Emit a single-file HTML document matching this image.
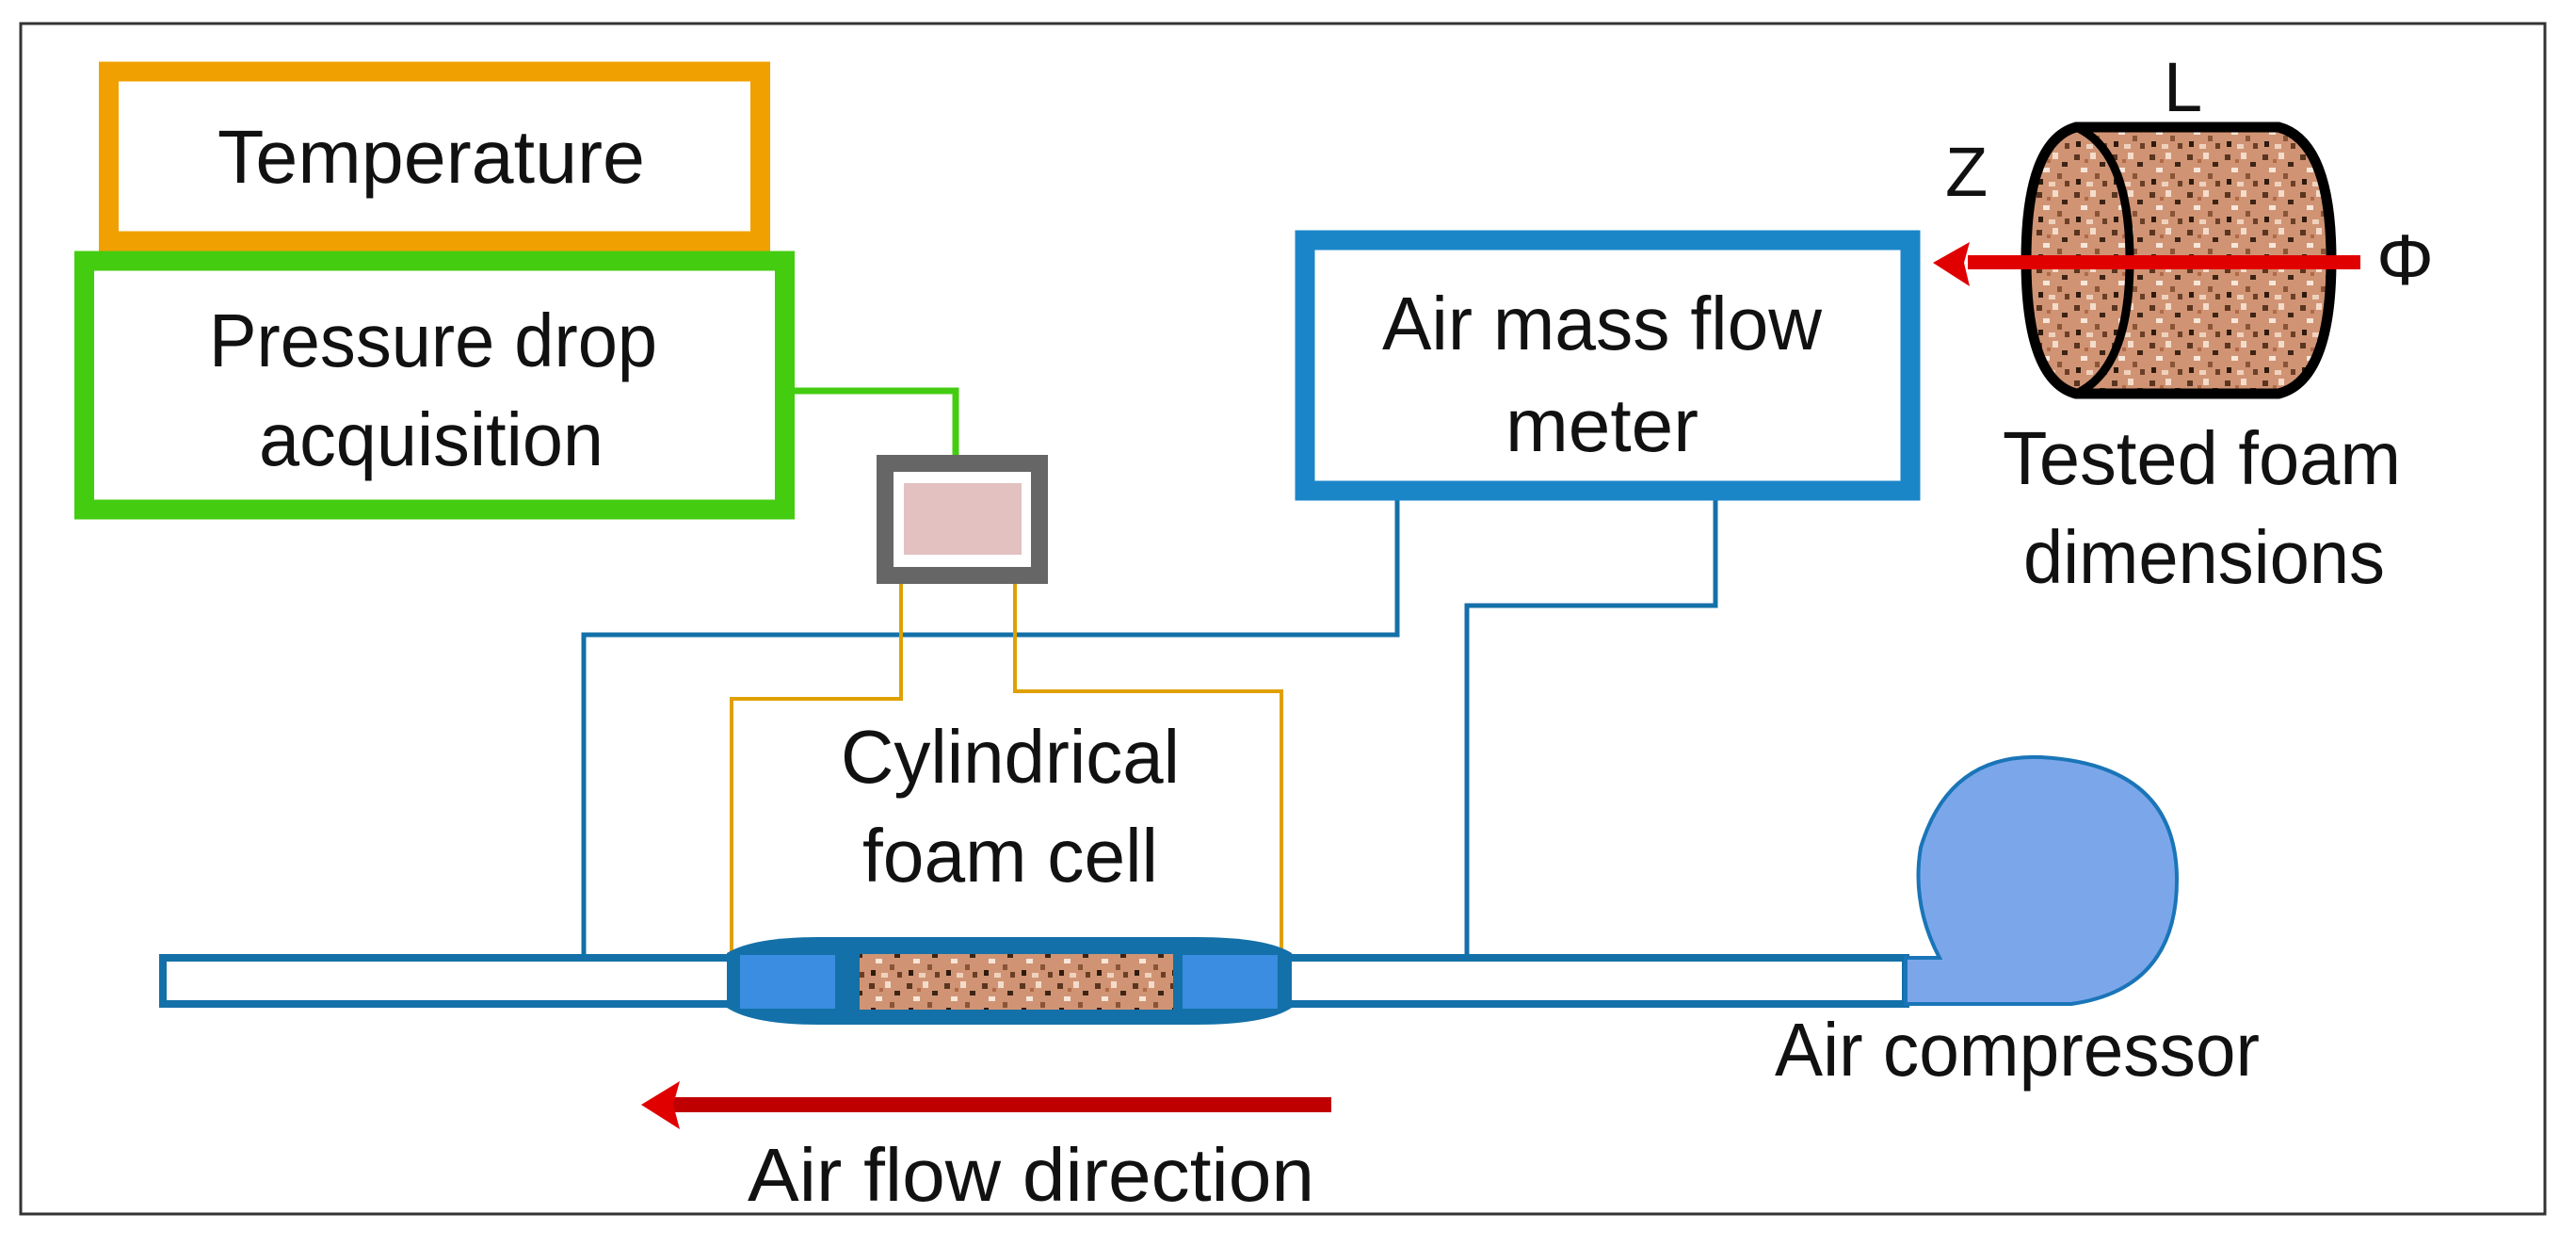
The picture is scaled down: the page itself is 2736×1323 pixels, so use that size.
<!DOCTYPE html>
<html><head><meta charset="utf-8"><style>
html,body{margin:0;padding:0;background:#fff;}
svg{display:block;}
text{font-family:"Liberation Sans",sans-serif;fill:#111;font-size:80px;}
</style></head><body>
<svg width="2736" height="1323" viewBox="0 0 2736 1323" xmlns="http://www.w3.org/2000/svg">
<defs>
<pattern id="foam" width="40" height="40" patternUnits="userSpaceOnUse">
<rect width="40" height="40" fill="#d09474"/>
<rect x="3" y="4" width="6" height="6" fill="#5a3520"/>
<rect x="20" y="2" width="6" height="7" fill="#f4dccb"/>
<rect x="30" y="12" width="6" height="5" fill="#3d2415"/>
<rect x="10" y="18" width="7" height="5" fill="#f7e6da"/>
<rect x="25" y="24" width="5" height="6" fill="#8a5536"/>
<rect x="5" y="30" width="5" height="6" fill="#2e1a0e"/>
<rect x="16" y="33" width="7" height="5" fill="#efd2bd"/>
<rect x="33" y="32" width="5" height="6" fill="#6b3f26"/>
<rect x="14" y="9" width="4" height="4" fill="#b06a48"/>
</pattern>
</defs>
<rect x="22" y="25" width="2681" height="1264" fill="none" stroke="#333" stroke-width="3"/>

<rect x="115.5" y="76" width="692" height="180" fill="#fff" stroke="#f0a000" stroke-width="21"/>
<text x="231" y="194" textLength="454" lengthAdjust="spacingAndGlyphs">Temperature</text>

<rect x="89.5" y="277" width="744" height="264" fill="#fff" stroke="#44cc11" stroke-width="21"/>
<text x="222" y="389" textLength="476" lengthAdjust="spacingAndGlyphs">Pressure drop</text>
<text x="275" y="494" textLength="366" lengthAdjust="spacingAndGlyphs">acquisition</text>

<polyline points="844,415 1015,415 1015,484" fill="none" stroke="#44cc11" stroke-width="7"/>

<rect x="940" y="492" width="164" height="119" fill="#fff" stroke="#666" stroke-width="18"/>
<rect x="960" y="513" width="125" height="76" fill="#e3c1c1"/>

<polyline points="620,1015 620,674 1484,674 1484,531" fill="none" stroke="#1470a8" stroke-width="5"/>
<polyline points="1558,1015 1558,643 1822,643 1822,531" fill="none" stroke="#1470a8" stroke-width="5"/>

<polyline points="777,1013 777,742 957,742 957,620" fill="none" stroke="#e0a000" stroke-width="4"/>
<polyline points="1078,620 1078,734 1361,734 1361,1013" fill="none" stroke="#e0a000" stroke-width="4"/>

<rect x="1386" y="255" width="643" height="266" fill="#fff" stroke="#1a86c8" stroke-width="21"/>
<text x="1468" y="371" textLength="467" lengthAdjust="spacingAndGlyphs">Air mass flow</text>
<text x="1599" y="479" textLength="205" lengthAdjust="spacingAndGlyphs">meter</text>

<rect x="173" y="1017" width="1851" height="49" fill="#fff" stroke="#1470a8" stroke-width="8"/>

<path d="M2024,1017 L2060,1017 Q2030,960 2040,900 Q2070,800 2168,804 Q2312,812 2312,934 Q2312,1050 2200,1066 L2024,1066 Z" fill="#7ba7ea" stroke="#1a75b8" stroke-width="4"/>

<path d="M772,1012 Q800,995 870,995 L1270,995 Q1345,995 1372,1012 L1372,1070 Q1345,1088 1270,1088 L870,1088 Q800,1088 772,1070 Z" fill="#1470a8"/>
<rect x="786" y="1014" width="101" height="57" fill="#3a8de0"/>
<rect x="1256" y="1014" width="101" height="57" fill="#3a8de0"/>
<rect x="913" y="1013" width="333" height="59" fill="url(#foam)"/>

<text x="893" y="831" textLength="360" lengthAdjust="spacingAndGlyphs">Cylindrical</text>
<text x="916" y="936" textLength="314" lengthAdjust="spacingAndGlyphs">foam cell</text>

<text x="1885" y="1142" textLength="515" lengthAdjust="spacingAndGlyphs">Air compressor</text>

<rect x="715" y="1165" width="699" height="16" fill="#c00000"/>
<polygon points="681,1173 722,1148 715,1173 722,1199" fill="#e00000"/>
<text x="794" y="1275" textLength="602" lengthAdjust="spacingAndGlyphs">Air flow direction</text>

<path d="M2205,135 L2420,135 Q2476,150 2476,276 Q2476,404 2420,418 L2205,418 Q2152,404 2152,276 Q2152,150 2205,135 Z" fill="url(#foam)" stroke="#000" stroke-width="11"/>
<path d="M2205,135 Q2262,160 2262,276 Q2262,392 2205,418" fill="none" stroke="#000" stroke-width="9"/>
<rect x="2090" y="271" width="417" height="15" fill="#e00000"/>
<polygon points="2053,279 2092,257 2086,279 2092,304" fill="#e00000"/>
<text x="2298" y="118" style="font-size:74px">L</text>
<text x="2066" y="208" style="font-size:74px">Z</text>
<text x="2524" y="302" style="font-size:76px" textLength="61" lengthAdjust="spacingAndGlyphs">Φ</text>
<text x="2127" y="514" textLength="423" lengthAdjust="spacingAndGlyphs">Tested foam</text>
<text x="2149" y="619" textLength="384" lengthAdjust="spacingAndGlyphs">dimensions</text>
</svg>
</body></html>
